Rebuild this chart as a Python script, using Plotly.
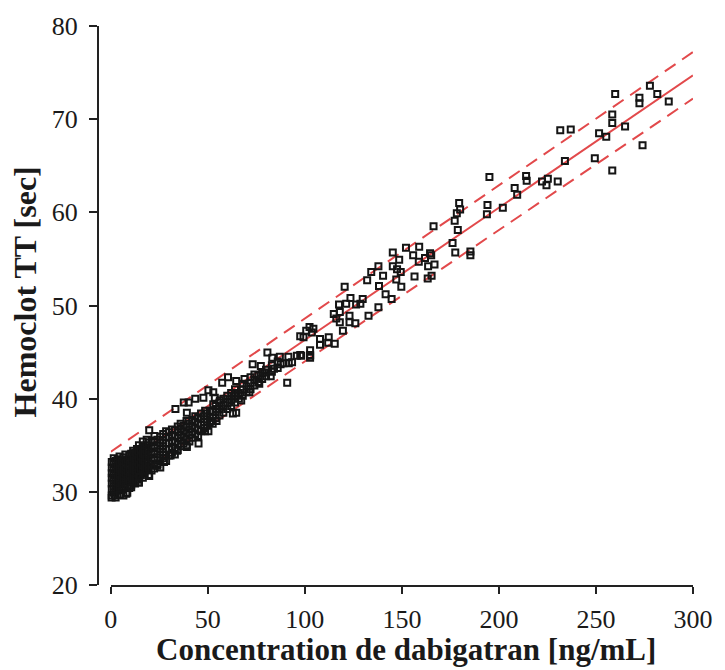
import plotly.graph_objects as go

# ---------------- data ----------------
# dense low-concentration cluster: concentration -> list of Hemoclot TT values
dense = {
    0.5: [29.6, 30.3, 30.9, 31.5, 32.0, 32.6, 33.2],
    1.5: [29.9, 30.6, 31.2, 31.8, 32.4, 33.0, 33.6],
    2.5: [29.4, 30.1, 30.8, 31.4, 32.1, 32.7, 33.3],
    3.5: [30.4, 31.0, 31.7, 32.3, 32.9, 33.5],
    4.5: [29.7, 30.6, 31.3, 31.9, 32.5, 33.1, 33.8],
    5.5: [30.2, 30.9, 31.5, 32.2, 32.8, 33.4],
    6.5: [29.6, 30.5, 31.1, 31.8, 32.4, 33.0, 33.7],
    7.5: [30.8, 31.4, 32.0, 32.7, 33.3, 34.0],
    8.5: [29.9, 30.6, 31.6, 32.2, 32.9, 33.5],
    9.5: [30.4, 31.2, 31.9, 32.5, 33.2, 33.9],
    10.5: [30.7, 31.5, 32.1, 32.8, 33.4, 34.1],
    11.5: [31.0, 31.8, 32.4, 33.1, 33.7, 34.4],
    12.5: [30.9, 31.6, 32.3, 33.0, 33.6, 34.2],
    13.5: [31.3, 32.0, 32.6, 33.3, 33.9, 34.6],
    14.5: [31.0, 31.6, 32.3, 32.9, 33.6, 34.3, 35.0],
    15.5: [31.8, 32.5, 33.2, 33.8, 34.5],
    16.5: [31.5, 32.2, 32.8, 33.5, 34.1, 34.8, 35.4],
    17.5: [32.0, 32.7, 33.4, 34.0, 34.7],
    18.5: [32.4, 33.1, 33.7, 34.4, 35.0, 35.6],
    19.5: [31.8, 32.6, 33.3, 34.0, 34.6, 35.3],
    21.0: [32.3, 33.0, 33.6, 34.3, 34.9, 35.5],
    22.5: [32.8, 33.4, 34.1, 34.7, 35.4, 36.0],
    24.0: [33.0, 33.7, 34.3, 35.0, 35.6],
    25.5: [32.6, 33.4, 34.0, 34.6, 35.3, 35.9],
    27.0: [33.6, 34.3, 34.9, 35.5, 36.2],
    28.5: [33.3, 34.0, 34.6, 35.2, 35.9, 36.5],
    30.0: [33.9, 34.6, 35.2, 35.9, 36.4],
    31.5: [34.2, 34.8, 35.5, 36.1, 36.7],
    33.0: [34.0, 34.7, 35.3, 36.0, 36.6],
    34.5: [34.5, 35.1, 35.8, 36.4, 37.0],
    36.0: [34.9, 35.5, 36.1, 36.8, 37.3],
    37.5: [35.2, 35.9, 36.5, 37.1],
    39.0: [35.0, 35.7, 36.3, 37.0, 37.6],
    40.5: [35.4, 36.1, 36.7, 37.3],
    42.0: [35.8, 36.4, 37.1, 37.7],
    43.5: [36.2, 36.9, 37.5, 38.1],
    45.0: [36.0, 36.7, 37.3, 37.9],
    46.5: [36.5, 37.2, 37.8, 38.4],
    48.0: [36.8, 37.5, 38.1],
    49.5: [37.1, 37.8, 38.4],
    51.0: [37.4, 38.0, 38.7],
    52.5: [37.3, 38.0, 38.6],
    54.0: [37.9, 38.6, 39.2],
    56.0: [38.2, 38.9, 39.6],
    58.0: [38.5, 39.3, 40.0],
    60.0: [38.9, 39.6, 40.3],
    62.0: [39.2, 39.9, 40.6],
    64.0: [39.6, 40.3, 41.0],
    66.0: [40.0, 40.6],
    68.0: [40.3, 41.0, 41.6],
    70.0: [40.7, 41.3],
    72.0: [41.0, 41.7, 42.3],
    74.0: [41.4, 42.0],
    76.0: [41.8, 42.5],
    78.0: [42.1, 42.8],
    80.0: [42.4, 43.1],
    83.0: [42.9, 43.6],
    86.0: [43.3, 44.0],
    89.0: [43.8],
}

# individually visible points
scatter_conc = [
    0.4, 2.0, 4.6, 8.0, 10.5, 14.4, 14.7, 19.8, 19.8, 22.3, 24.0, 27.4, 30.8, 34.2, 39.2, 45.2,
    48.6, 50.3, 51.9, 54.5, 54.5, 62.9, 64.6, 67.2, 33.3, 39.2, 37.6, 40.1, 43.5,
    50.3, 52.8, 53.6, 56.2, 52.8, 47.7, 40.1, 45.2, 48.6,
    57.4, 60.4, 64.6, 68.9, 71.4, 76.5, 73.1, 77.3, 79.0, 74.0, 82.4, 84.1, 87.5, 91.7, 93.4, 90.9,
    80.7, 83.2, 87.1, 91.5, 95.9, 98.1, 102.7, 102.7,
    97.6, 99.3, 100.7, 102.4, 104.4, 103.6, 107.8, 112.3, 107.8, 112.0, 115.4, 97.6, 102.7, 102.7,
    114.9, 118.0, 116.2, 118.0, 123.0, 123.0, 126.0, 132.8, 119.6,
    117.6, 121.3, 126.4, 128.6, 120.5, 123.5, 129.8,
    132.1, 134.2, 137.9, 137.9, 138.2, 140.3, 141.6, 144.7, 145.3, 145.3, 147.1, 147.5, 148.6, 149.4, 149.7,
    152.1, 155.8, 156.5, 158.7, 158.9, 161.9, 163.3, 163.5, 164.5, 165.1, 165.3, 166.8,
    166.3, 176.1, 177.2, 177.5, 178.3, 178.8, 179.5, 180.0, 185.3, 185.3,
    193.8, 194.1, 195.1, 202.0, 208.1, 209.4, 214.0, 214.3, 222.2, 224.5, 225.2, 230.3,
    231.6, 234.0, 237.0, 249.4, 251.6, 255.3, 258.4, 258.4, 258.4, 259.9, 265.0,
    272.4, 272.4, 274.0, 277.8, 281.6, 287.5,
]
scatter_tt = [
    29.4, 29.6, 29.7, 29.8, 30.5, 31.0, 31.6, 31.7, 36.6, 32.5, 32.8, 33.2, 33.9, 34.4, 34.8, 35.2,
    36.5, 36.5, 37.6, 37.6, 38.9, 38.4, 38.5, 39.8, 38.9, 38.5, 39.6, 39.6, 40.0,
    40.9, 40.7, 40.1, 39.8, 39.4, 40.1, 37.6, 38.0, 38.7,
    41.7, 42.3, 41.9, 42.1, 40.7, 41.6, 43.7, 43.5, 42.8, 42.6, 42.4, 43.2, 43.7, 43.8, 43.9, 41.7,
    44.95, 44.4, 44.5, 44.5, 44.6, 44.6, 44.7, 44.4,
    46.7, 46.6, 47.3, 47.7, 47.5, 47.1, 46.4, 46.6, 45.8, 46.0, 45.9, 44.7, 45.2, 44.6,
    49.1, 49.3, 48.6, 48.2, 48.9, 48.2, 48.1, 48.9, 47.3,
    50.1, 50.2, 50.1, 50.2, 52.0, 50.8, 50.7,
    52.7, 53.6, 54.2, 49.8, 52.1, 53.2, 51.2, 50.7, 55.7, 54.2, 52.8, 53.9, 54.9, 53.6, 52.0,
    56.2, 55.4, 53.1, 54.7, 56.3, 55.1, 52.9, 54.2, 55.6, 55.4, 53.2, 54.4,
    58.5, 56.7, 59.1, 55.7, 59.9, 58.1, 61.0, 60.3, 55.8, 55.4,
    59.8, 60.8, 63.8, 60.5, 62.6, 61.9, 63.9, 63.4, 63.3, 62.9, 63.6, 63.3,
    68.8, 65.5, 68.9, 65.8, 68.5, 68.1, 70.5, 69.6, 64.5, 72.7, 69.2,
    72.3, 71.7, 67.2, 73.6, 72.7, 71.9,
]

# regression line and dashed band (intercept, slope)
fit_line = (32.1, 0.142)
upper_band = (34.3, 0.143)
lower_band = (29.9, 0.141)
line_conc = [0, 300]

x_ticks = [0, 50, 100, 150, 200, 250, 300]
y_ticks = [20, 30, 40, 50, 60, 70, 80]

# ---------------- build ----------------
xs, ys = [], []
for c, vals in dense.items():
    for v in vals:
        xs.append(c)
        ys.append(v)
xs += scatter_conc
ys += scatter_tt

RED = "#e2494b"
fig = go.Figure()


def line_vals(p):
    return [p[0] + p[1] * c for c in line_conc]


fig.add_trace(go.Scatter(x=line_conc, y=line_vals(upper_band), mode="lines",
                         line=dict(color=RED, width=2, dash="13px,8px"), hoverinfo="skip"))
fig.add_trace(go.Scatter(x=line_conc, y=line_vals(lower_band), mode="lines",
                         line=dict(color=RED, width=2, dash="13px,8px"), hoverinfo="skip"))
fig.add_trace(go.Scatter(x=line_conc, y=line_vals(fit_line), mode="lines",
                         line=dict(color=RED, width=2), hoverinfo="skip"))
fig.add_trace(go.Scatter(x=xs, y=ys, mode="markers", cliponaxis=False,
                         marker=dict(symbol="square-open", size=6, color="#151515",
                                     line=dict(width=2, color="#151515"))))

FONT = "Liberation Serif"
fig.update_layout(
    width=725, height=670,
    margin=dict(l=98, r=23, t=24, b=85),
    paper_bgcolor="white", plot_bgcolor="white",
    showlegend=False,
    font=dict(family=FONT, size=26, color="#1a1a1a"),
    xaxis=dict(domain=[13 / 604, 1], range=[0, 300], tickvals=x_ticks,
               showgrid=False, zeroline=False, showline=True, linecolor="#222", linewidth=2,
               ticks="outside", ticklen=7, tickwidth=2, tickcolor="#222",
               ticklabelstandoff=3, anchor="y"),
    yaxis=dict(range=[20, 80], tickvals=y_ticks, anchor="free", position=0,
               showgrid=False, zeroline=False, showline=True, linecolor="#222", linewidth=2,
               ticks="outside", ticklen=8, tickwidth=2, tickcolor="#222",
               ticklabelstandoff=6),
    annotations=[
        dict(text="Concentration de dabigatran [ng/mL]", x=152, y=0, xref="x", yref="paper",
             yshift=-84, xanchor="center", yanchor="bottom", showarrow=False,
             font=dict(family=FONT, size=31, weight="bold", color="#1a1a1a")),
        dict(text="Hemoclot TT [sec]", x=0, y=51.4, xref="paper", yref="y",
             xshift=-73, xanchor="center", yanchor="middle", textangle=-90, showarrow=False,
             font=dict(family=FONT, size=32, weight="bold", color="#1a1a1a")),
    ],
)

fig.write_html("out.html")
